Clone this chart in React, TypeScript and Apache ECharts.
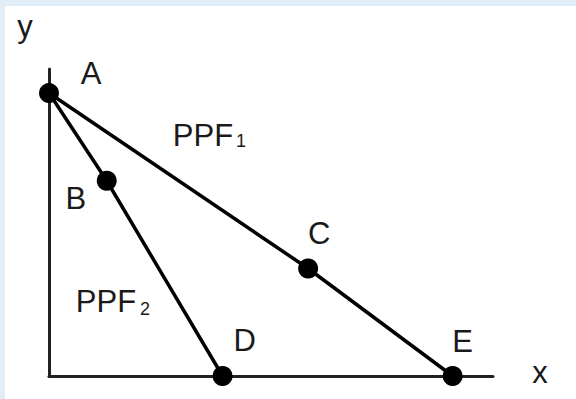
import React, { useEffect, useRef } from "react";
import * as echarts from "echarts";

// Production possibility frontiers: two straight lines from the common intercept A.
const ppf1Points = ["A", "C", "E"];
const ppf1X = [0, 6.42, 10];
const ppf1Y = [10, 3.8, 0];

const ppf2Points = ["A", "B", "D"];
const ppf2X = [0, 1.43, 4.3];
const ppf2Y = [10, 6.9, 0];

const xAxisMax = 11;
const yAxisMax = 10.85;

const FONT = "'Liberation Sans', Arial, Helvetica, sans-serif";
const INK = "#1a1a1a";

// Where each point's letter sits, relative to the dot centre (px).
const labelOffsets: Record<string, [number, number]> = {
  A: [42, -20],
  B: [-31, 18],
  C: [11, -35],
  D: [22, -36],
  E: [10, -35],
};

export default function App() {
  const ref = useRef<HTMLDivElement>(null);

  useEffect(() => {
    if (!ref.current) return;
    const chart = echarts.init(ref.current, undefined, { renderer: "svg" });

    const pairs = (xs: number[], ys: number[]) => xs.map((x, i) => [x, ys[i]]);

    // Unique labelled points taken from both frontiers.
    const seen = new Set<string>();
    const points: any[] = [];
    const addPoints = (names: string[], xs: number[], ys: number[]) => {
      names.forEach((n, i) => {
        if (seen.has(n)) return;
        seen.add(n);
        points.push({
          name: n,
          value: [xs[i], ys[i]],
          label: { offset: labelOffsets[n] },
        });
      });
    };
    addPoints(ppf1Points, ppf1X, ppf1Y);
    addPoints(ppf2Points, ppf2X, ppf2Y);

    const textStyle = (text: string, x: number, y: number, size = 31) => ({
      type: "text",
      x,
      y,
      z: 10,
      style: {
        text,
        fill: INK,
        font: `${size}px ${FONT}`,
        align: "center",
        verticalAlign: "middle",
      },
    });

    chart.setOption({
      animation: false,
      backgroundColor: "#ffffff",
      grid: { left: 49, right: 83, top: 69, bottom: 23 },
      xAxis: {
        type: "value",
        min: 0,
        max: xAxisMax,
        axisLine: { show: true, lineStyle: { color: "#222", width: 3 } },
        axisTick: { show: false },
        axisLabel: { show: false },
        splitLine: { show: false },
      },
      yAxis: {
        type: "value",
        min: 0,
        max: yAxisMax,
        axisLine: { show: true, lineStyle: { color: "#222", width: 3 } },
        axisTick: { show: false },
        axisLabel: { show: false },
        splitLine: { show: false },
      },
      graphic: [
        { type: "rect", z: -10, shape: { x: 0, y: 0, width: 576, height: 6 }, style: { fill: "#e1edf7" } },
        { type: "rect", z: -10, shape: { x: 0, y: 0, width: 5, height: 399 }, style: { fill: "#e1edf7" } },
        textStyle("y", 25, 26),
        textStyle("x", 540, 372),
        textStyle("PPF", 203, 135),
        textStyle("1", 241, 141, 18),
        textStyle("PPF", 106, 301),
        textStyle("2", 145, 309, 18),
      ],
      series: [
        {
          type: "line",
          data: pairs(ppf1X, ppf1Y),
          symbol: "none",
          lineStyle: { color: "#000", width: 3.5 },
          z: 3,
        },
        {
          type: "line",
          data: pairs(ppf2X, ppf2Y),
          symbol: "none",
          lineStyle: { color: "#000", width: 3.5 },
          z: 3,
        },
        {
          type: "scatter",
          data: points,
          symbol: "circle",
          symbolSize: 20,
          itemStyle: { color: "#000", opacity: 1 },
          z: 5,
          label: {
            show: true,
            position: "inside",
            formatter: "{b}",
            color: INK,
            fontSize: 31,
            fontFamily: FONT,
            align: "center",
            verticalAlign: "middle",
          },
        },
      ],
    });

    return () => chart.dispose();
  }, []);

  return (
    <div
      style={{ position: "absolute", left: 0, top: 0, width: 576, height: 399, margin: 0 }}
    >
      <div ref={ref} style={{ width: 576, height: 399 }} />
    </div>
  );
}
